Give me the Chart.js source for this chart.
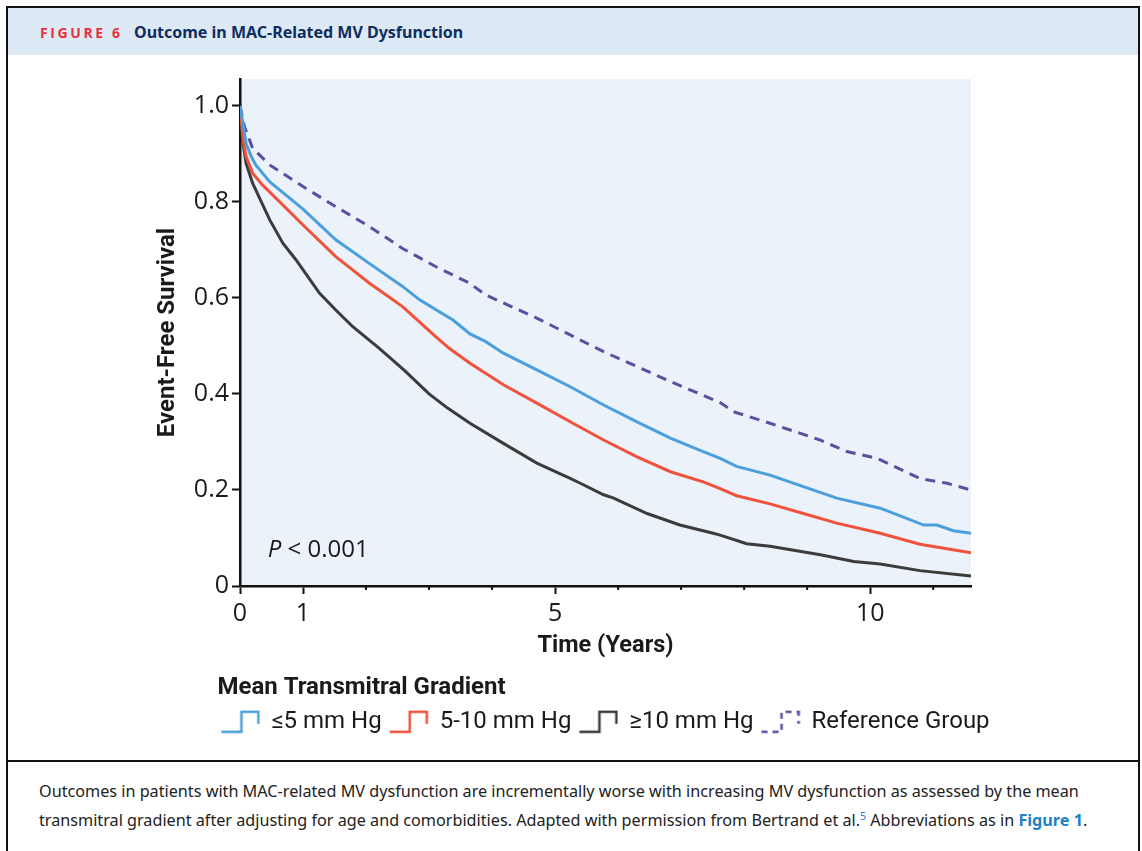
<!DOCTYPE html>
<html>
<head>
<meta charset="utf-8">
<script src="https://cdn.jsdelivr.net/npm/chart.js@4.4.1/dist/chart.umd.min.js"></script>
<style>
  body { margin: 0; background: #fff; width: 1142px; height: 851px; overflow: hidden; position: relative; }
  #frame { position: absolute; left: 6px; top: 6px; width: 1130px; height: 860px; border: 2px solid #111; border-bottom: none; }
  #head { position: absolute; left: 8px; top: 8px; width: 1130px; height: 47px; background: #dde9f5; }
  #head .fig { position: absolute; left: 32px; top: 15px; font: 700 14px "Open Sans", sans-serif; color: #e8313c; letter-spacing: 2.6px; }
  #head .ttl { position: absolute; left: 126px; top: 13px; font: 700 16px "Noto Sans", sans-serif; color: #0f2d5e; }
  #divider { position: absolute; left: 8px; top: 760px; width: 1130px; height: 2px; background: #111; }
  #caption { position: absolute; left: 39px; top: 777px; font: 16.2px "Noto Sans", sans-serif; line-height: 29px; color: #222; white-space: nowrap; }
  #caption b { color: #1b82c4; }
  #caption sup { color: #1b82c4; font-size: 10.5px; line-height: 0; }
  #wrap { position: absolute; left: 0; top: 56px; width: 1142px; height: 700px; }
</style>
</head>
<body>
<div id="frame"></div>
<div id="head"><span class="fig">FIGURE 6</span><span class="ttl">Outcome in MAC-Related MV Dysfunction</span></div>
<div id="divider"></div>
<div id="caption">Outcomes in patients with MAC-related MV dysfunction are incrementally worse with increasing MV dysfunction as assessed by the mean<br>transmitral gradient after adjusting for age and comorbidities. Adapted with permission from Bertrand et al.<sup>5</sup> Abbreviations as in <b>Figure 1</b>.</div>
<div id="wrap"><canvas id="km"></canvas></div>
<script>
// time in years and event-free survival
const seriesNames = ["≤5 mm Hg", "5-10 mm Hg", "≥10 mm Hg", "Reference Group"];

const tLow = [0, 0.1, 0.18, 0.25, 0.47, 1.0, 1.52, 2.05, 2.58, 2.85, 3.38, 3.65, 3.9, 4.18, 4.71, 5.24, 5.77, 6.3, 6.83, 7.35, 7.62, 7.88, 8.41, 8.94, 9.47, 10.16, 10.85, 11.06, 11.32, 11.6];
const sLow = [1.0, 0.92, 0.894, 0.877, 0.842, 0.785, 0.721, 0.672, 0.624, 0.596, 0.554, 0.525, 0.509, 0.485, 0.45, 0.415, 0.377, 0.342, 0.308, 0.28, 0.266, 0.249, 0.231, 0.207, 0.183, 0.162, 0.127, 0.127, 0.115, 0.11];

const tMid = [0, 0.05, 0.095, 0.2, 0.36, 0.47, 1.0, 1.52, 2.05, 2.58, 3.11, 3.32, 3.65, 4.18, 4.71, 5.24, 5.77, 6.3, 6.83, 7.35, 7.62, 7.88, 8.41, 8.94, 9.47, 10.16, 10.79, 11.6];
const sMid = [1.0, 0.93, 0.895, 0.86, 0.835, 0.821, 0.752, 0.686, 0.631, 0.582, 0.519, 0.495, 0.464, 0.419, 0.381, 0.342, 0.304, 0.269, 0.238, 0.217, 0.203, 0.188, 0.171, 0.151, 0.131, 0.11, 0.087, 0.069];

const tHigh = [0, 0.04, 0.095, 0.2, 0.47, 0.68, 0.89, 1.26, 1.52, 1.79, 2.21, 2.6, 3.0, 3.3, 3.65, 4.18, 4.71, 5.24, 5.4, 5.77, 5.93, 6.46, 6.98, 7.51, 7.62, 8.04, 8.41, 9.21, 9.74, 10.16, 10.79, 11.6];
const sHigh = [1.0, 0.93, 0.881, 0.839, 0.763, 0.714, 0.679, 0.61, 0.575, 0.54, 0.495, 0.45, 0.4, 0.37, 0.339, 0.297, 0.256, 0.224, 0.214, 0.19, 0.183, 0.151, 0.127, 0.11, 0.106, 0.088, 0.083, 0.065, 0.051, 0.046, 0.032, 0.021];

const tRef = [0, 0.07, 0.2, 0.47, 1.0, 1.52, 2.05, 2.58, 3.11, 3.64, 3.9, 4.71, 5.77, 6.83, 7.62, 7.83, 8.41, 9.21, 9.63, 10.11, 10.79, 11.22, 11.6];
const sRef = [1.0, 0.957, 0.912, 0.877, 0.832, 0.79, 0.749, 0.703, 0.665, 0.631, 0.606, 0.558, 0.488, 0.426, 0.382, 0.363, 0.339, 0.304, 0.28, 0.266, 0.224, 0.214, 0.2];

const xLabeled = [0, 1, 5, 10];
const yTicks = [0, 0.2, 0.4, 0.6, 0.8, 1.0];

const colors = ["#4a9fdc", "#f0523c", "#3b3b3b", "#5b4f9f"];

function pts(t, s) {
  return t.map((x, i) => ({ x: x, y: s[i] }));
}

// little step-shaped legend key, like the printed one
function stepIcon(color, dashed) {
  const c = document.createElement("canvas");
  c.width = 40;
  c.height = 24;
  const g = c.getContext("2d");
  g.strokeStyle = color;
  g.lineWidth = 2.5;
  if (dashed) g.setLineDash([6, 5]);
  g.beginPath();
  g.moveTo(1, 22);
  g.lineTo(21, 22);
  g.lineTo(21, 2);
  g.lineTo(38, 2);
  g.lineTo(38, 14);
  g.stroke();
  return c;
}

function line(i, t, s, dashed) {
  return {
    label: seriesNames[i],
    data: pts(t, s),
    borderColor: colors[i],
    backgroundColor: colors[i],
    borderWidth: 3,
    borderDash: dashed ? [10, 7] : [],
    pointRadius: 0,
    pointStyle: stepIcon(colors[i], dashed),
    tension: 0,
    fill: false,
  };
}

const plotBack = {
  id: "plotBack",
  beforeDraw(chart) {
    const a = chart.chartArea;
    const ctx = chart.ctx;
    ctx.save();
    ctx.fillStyle = "#ebf2fa";
    ctx.fillRect(a.left, a.top, a.right - a.left, a.bottom - a.top);
    ctx.restore();
  },
};

// short minor ticks on unlabeled years + P value note
const extras = {
  id: "extras",
  afterDraw(chart) {
    const ctx = chart.ctx;
    const x = chart.scales.x;
    const y = chart.scales.y;
    ctx.save();
    ctx.strokeStyle = "#111";
    ctx.lineWidth = 2;
    for (let v = 0; v <= 11; v++) {
      if (xLabeled.includes(v)) continue;
      const px = x.getPixelForValue(v);
      ctx.beginPath();
      ctx.moveTo(px, y.bottom);
      ctx.lineTo(px, y.bottom + 4);
      ctx.stroke();
    }
    const px = x.getPixelForValue(0.44);
    const py = y.getPixelForValue(0.074);
    ctx.fillStyle = "#1a1a1a";
    ctx.textBaseline = "middle";
    ctx.font = "italic 24px 'Open Sans'";
    ctx.fillText("P", px, py);
    const w = ctx.measureText("P").width;
    ctx.font = "24px 'Open Sans'";
    ctx.fillText(" < 0.001", px + w, py);
    ctx.restore();
  },
};

document.addEventListener("DOMContentLoaded", () => {
  const ctx = document.getElementById("km").getContext("2d");

  new Chart(ctx, {
    type: "line",
    data: {
      datasets: [
        line(0, tLow, sLow, false),
        line(1, tMid, sMid, false),
        line(2, tHigh, sHigh, false),
        line(3, tRef, sRef, true),
      ],
    },
    options: {
      responsive: true,
      maintainAspectRatio: false,
      animation: false,
      layout: { padding: { left: 154, right: 85, top: 23, bottom: 12.2 } },
      plugins: {
        tooltip: { enabled: false },
        legend: {
          position: "bottom",
          align: "center",
          labels: {
            usePointStyle: true,
            pointStyleWidth: 38,
            padding: 8,
            color: "#1a1a1a",
            font: { family: "Roboto", size: 24 },
          },
          title: {
            display: true,
            text: "Mean Transmitral Gradient",
            position: "start",
            color: "#1a1a1a",
            padding: { top: 16, bottom: -3 },
            font: { family: "Roboto", size: 24, weight: "bold" },
          },
        },
      },
      scales: {
        x: {
          type: "linear",
          min: 0,
          max: 11.6,
          afterFit(s) {
            s.height = 74;
          },
          afterBuildTicks(s) {
            s.ticks = [];
            for (let v = 0; v <= 11; v++) s.ticks.push({ value: v });
          },
          ticks: {
            autoSkip: false,
            maxRotation: 0,
            padding: 5,
            color: "#1a1a1a",
            font: { family: "Open Sans", size: 25 },
            callback: (v) => (xLabeled.includes(v) ? String(v) : ""),
          },
          grid: {
            drawOnChartArea: false,
            tickLength: 8,
            tickWidth: 2,
            tickColor: (c) => (c.tick && xLabeled.includes(c.tick.value) ? "#111" : "rgba(0,0,0,0)"),
          },
          border: { color: "#111", width: 2.5 },
          title: {
            display: true,
            text: "Time (Years)",
            color: "#1a1a1a",
            padding: 0,
            font: { family: "Roboto", size: 23.5, weight: "bold" },
          },
        },
        y: {
          min: 0,
          max: 1.056,
          afterFit(s) {
            s.width = 86;
          },
          afterBuildTicks(s) {
            s.ticks = yTicks.map((v) => ({ value: v }));
          },
          ticks: {
            padding: 3,
            color: "#1a1a1a",
            font: { family: "Open Sans", size: 25 },
            callback: (v) => (v === 0 ? "0" : v.toFixed(1)),
          },
          grid: { drawOnChartArea: false, tickLength: 8, tickWidth: 2, tickColor: "#111" },
          border: { color: "#111", width: 2.5 },
          title: {
            display: true,
            text: "Event-Free Survival",
            color: "#1a1a1a",
            padding: 0,
            font: { family: "Roboto", size: 24, weight: "bold" },
          },
        },
        yR: {
          axis: "y",
          position: "right",
          afterFit(s) {
            s.width = 86;
          },
          ticks: { display: false },
          grid: { display: false },
          border: { display: false },
        },
      },
    },
    plugins: [plotBack, extras],
  });
});
</script>
</body>
</html>
